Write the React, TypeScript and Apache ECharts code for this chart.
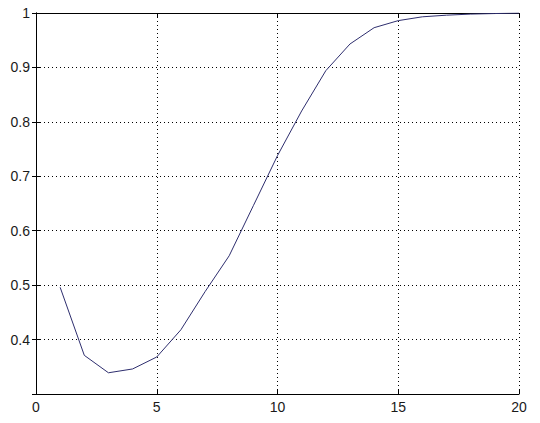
import React, { useEffect, useRef } from "react";
import * as echarts from "echarts";

const xValues = [1, 2, 3, 4, 5, 6, 7, 8, 9, 10, 11, 12, 13, 14, 15, 16, 17, 18, 19, 20];
const yValues = [0.496, 0.371, 0.339, 0.346, 0.368, 0.418, 0.488, 0.554, 0.646, 0.738, 0.82, 0.894, 0.943, 0.973, 0.986, 0.993, 0.996, 0.998, 0.999, 1.0];
const xTicks = [0, 5, 10, 15, 20];
const yTickLabels = ["0.4", "0.5", "0.6", "0.7", "0.8", "0.9", "1"];

export default function App() {
  const ref = useRef<HTMLDivElement>(null);
  useEffect(() => {
    if (!ref.current) return;
    const chart = echarts.init(ref.current, null, { renderer: "svg" });
    const labelStyle = {
      color: "#1a1a1a",
      fontFamily: "Liberation Sans, Arial, sans-serif",
      fontSize: 14,
    };
    const axisLine = { show: true, lineStyle: { color: "#000", width: 1 } };
    const axisTick = { show: true, inside: true, length: 4, lineStyle: { color: "#000" } };
    const splitLine = { show: true, lineStyle: { color: "#000", type: [1, 3] as any, width: 1 } };
    chart.setOption({
      animation: false,
      backgroundColor: "#fff",
      grid: { left: 36, top: 13, right: 21, bottom: 29, containLabel: false },
      xAxis: [
        {
          type: "value",
          min: xTicks[0],
          max: xTicks[xTicks.length - 1],
          interval: 5,
          position: "bottom",
          axisLine,
          axisTick,
          splitLine,
          axisLabel: { ...labelStyle, margin: 6, formatter: (v: number) => String(v) },
        },
        {
          type: "value",
          min: xTicks[0],
          max: xTicks[xTicks.length - 1],
          interval: 5,
          position: "top",
          axisLine,
          axisTick,
          splitLine: { show: false },
          axisLabel: { show: false },
        },
      ],
      yAxis: [
        {
          type: "value",
          min: 0.3,
          max: 1,
          interval: 0.1,
          position: "left",
          axisLine,
          axisTick,
          splitLine,
          axisLabel: {
            ...labelStyle,
            margin: 6,
            formatter: (v: number) => {
              const s = String(Math.round(v * 10) / 10);
              return yTickLabels.includes(s) ? s : "";
            },
          },
        },
        {
          type: "value",
          min: 0.3,
          max: 1,
          interval: 0.1,
          position: "right",
          axisLine,
          axisTick,
          splitLine: { show: false },
          axisLabel: { show: false },
        },
      ],
      series: [
        {
          type: "line",
          data: xValues.map((x, i) => [x, yValues[i]]),
          showSymbol: false,
          lineStyle: { color: "#2e2e6e", width: 1 },
          itemStyle: { color: "#2e2e6e" },
        },
      ],
    });
    return () => chart.dispose();
  }, []);
  return <div ref={ref} style={{ width: 540, height: 423, position: "absolute", left: 0, top: 0 }} />;
}
